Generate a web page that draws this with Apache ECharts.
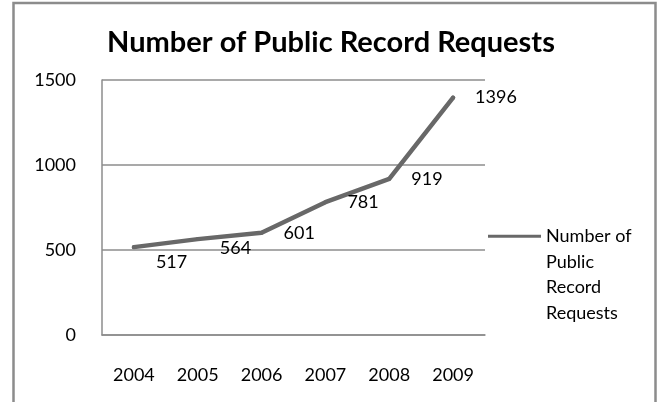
<!DOCTYPE html>
<html>
<head>
<meta charset="utf-8">
<script src="https://cdn.jsdelivr.net/npm/echarts@6/dist/echarts.min.js"></script>
<style>
  html, body { margin: 0; padding: 0; background: #fff; }
  #chart { width: 662px; height: 402px; }
</style>
</head>
<body>
<div id="chart"></div>
<script>
// Yearly request counts
const years = ['2004', '2005', '2006', '2007', '2008', '2009'];
const requests = [517, 564, 601, 781, 919, 1396];
const seriesName = 'Number of Public Record Requests';
const legendLines = ['Number of', 'Public', 'Record', 'Requests'];
const yTicks = { min: 0, max: 1500, interval: 500 };

// Per-point nudges for the first two value labels, which sit under the line
const labelNudge = [[0, 15], [0, 9], [0, 0], [0, 0], [0, 0], [0, 0]];

const FONT = 'Lato, "Open Sans", sans-serif';
const GRID_GRAY = '#8c8c8c';
const LINE_GRAY = '#686868';

const chart = echarts.init(document.getElementById('chart'), null, { renderer: 'canvas' });

// Legend text is centred on its swatch; three blank lines above the
// wrapped name put the first line level with the swatch.
const legendText = ['', '', ''].concat(legendLines).join('\n');

chart.setOption({
  backgroundColor: '#ffffff',
  animation: false,
  title: {
    text: 'Number of Public Record Requests',
    left: 'center',
    top: 23,
    textStyle: { fontFamily: FONT, fontWeight: 'bold', fontSize: 29, color: '#000' }
  },
  graphic: [{
    type: 'rect',
    shape: { x: 13.5, y: 3, width: 642, height: 430 },
    style: { fill: 'none', stroke: GRID_GRAY, lineWidth: 2.5 },
    silent: true
  }],
  grid: { left: 102, top: 80, width: 383, height: 255, containLabel: false },
  legend: {
    show: true,
    left: 488,
    top: 147,
    padding: 0,
    icon: 'rect',
    itemWidth: 53,
    itemHeight: 3,
    data: [seriesName],
    formatter: () => legendText,
    textStyle: { fontFamily: FONT, fontSize: 18, color: '#000', lineHeight: 25.5 }
  },
  xAxis: {
    type: 'category',
    data: years,
    boundaryGap: true,
    axisLine: { show: true, lineStyle: { color: GRID_GRAY, width: 1.5 } },
    axisTick: { show: false },
    axisLabel: { fontFamily: FONT, fontSize: 18, color: '#000', margin: 31, lineHeight: 18 },
    splitLine: { show: false }
  },
  yAxis: {
    type: 'value',
    min: yTicks.min,
    max: yTicks.max,
    interval: yTicks.interval,
    axisLine: { show: true, lineStyle: { color: GRID_GRAY, width: 1.5 } },
    axisTick: { show: false },
    axisLabel: {
      fontFamily: FONT, fontSize: 18, color: '#000', margin: 26,
      formatter: (v) => String(v)
    },
    splitLine: { show: true, lineStyle: { color: GRID_GRAY, width: 1.5 } }
  },
  series: [{
    name: seriesName,
    type: 'line',
    data: requests.map((v, i) => ({
      value: v,
      label: { offset: labelNudge[i] }
    })),
    symbol: 'circle',
    symbolSize: 4,
    showSymbol: true,
    itemStyle: { color: LINE_GRAY },
    lineStyle: { color: LINE_GRAY, width: 4.5, cap: 'round', join: 'round' },
    label: {
      show: true,
      position: 'right',
      distance: 20,
      fontFamily: FONT,
      fontSize: 18,
      color: '#000'
    }
  }]
});
</script>
</body>
</html>
